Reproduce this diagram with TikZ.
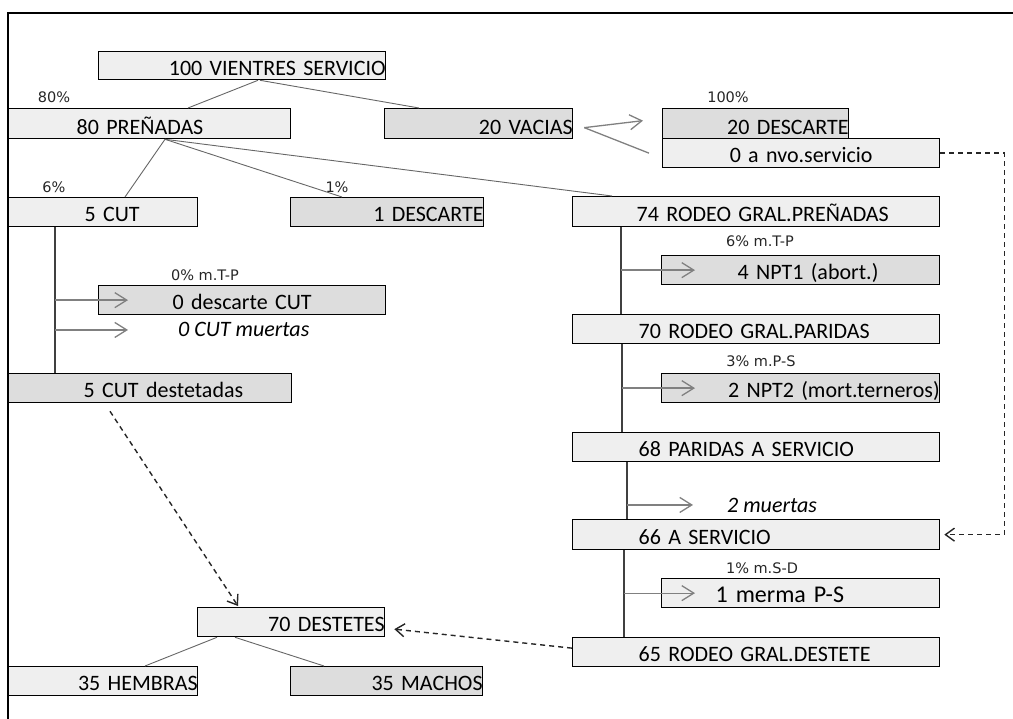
\documentclass[tikz,border=0pt]{standalone}
\usepackage{fontspec}
\setmainfont{Carlito}
\newfontfamily\etiq{DejaVu Sans}
\usetikzlibrary{arrows.meta}
\definecolor{claro}{HTML}{EFEFEF}
\definecolor{oscuro}{HTML}{DDDDDD}

\begin{document}
\begin{tikzpicture}[x=1pt, y=-1pt,
    caja/.style={draw, line width=1.3pt, fill=claro, minimum height=29pt, inner sep=0pt, anchor=north west,
                 font=\fontsize{22}{24}\selectfont, text height=19pt, text depth=0pt},
    gris/.style={caja, fill=oscuro},
    porc/.style={font=\etiq\fontsize{14.5}{16}\selectfont, text=black!85, inner sep=0pt, anchor=base},
    texto/.style={font=\fontsize{22}{24}\selectfont\itshape, inner sep=0pt, anchor=base west},
    rama/.style={draw=black!60, line width=0.9pt},
    tronco/.style={draw=black!75, line width=1.1pt},
    flecha/.style={draw=black!50, line width=1.3pt, -{Straight Barb[length=12pt,width=15pt]}},
    punteada/.style={draw=black!85, line width=1.4pt, dash pattern=on 5pt off 4pt, -{Straight Barb[length=9pt,width=13pt]}}]
  \useasboundingbox (0,0) rectangle (1013,719);
  % marco
  \draw[line width=1.5pt] (1013,13) -- (8,13) -- (8,719);

  % servicio
  \node[caja, text width=287pt, align=right, minimum height=28pt, text height=20pt] (vientres) at (98,51) {100 VIENTRES SERVICIO\hspace*{12pt}};
  \node[caja, text width=282pt, align=left, minimum height=30pt, text height=21pt] (prenadas) at (8,108) {\hspace*{68pt}80 PREÑADAS};
  \node[gris, text width=188pt, align=right, minimum height=30pt, text height=21pt] (vacias) at (384,108) {20 VACIAS\hspace*{19pt}};
  \node[gris, text width=186pt, align=right, minimum height=30pt, text height=21pt] (descarte) at (662,108) {20 DESCARTE\hspace*{12pt}};
  \node[caja, text width=277pt, align=center] (nvo) at (662,138) {0 a nvo.servicio};
  \node[porc] (p80) at (54,103) {80\%};
  \node[porc] (p100) at (728,103) {100\%};

  % preñadas
  \node[caja, text width=189pt, align=left] (cut) at (8,197) {\hspace*{76pt}5 CUT};
  \node[gris, text width=193pt, align=right] (descarte1) at (290,197) {1 DESCARTE\hspace*{6pt}};
  \node[caja, text width=367pt, align=left, minimum height=30pt] (rodeo) at (572,196) {\hspace*{64pt}74 RODEO GRAL.PREÑADAS};
  \node[porc] (p6) at (54,193) {6\%};
  \node[porc] (p1) at (337,193) {1\%};

  % vaquillonas CUT
  \node[gris, text width=287pt, align=center] (descCUT) at (98,285) {0 descarte CUT};
  \node[texto] (muertasCUT) at (178,337) {0 CUT muertas};
  \node[gris, text width=283pt, align=left] (cutdest) at (8,373) {\hspace*{75pt}5 CUT destetadas};
  \node[porc] (pTP) at (205,281) {0\% m.T-P};

  % rodeo general
  \node[gris, text width=278pt, align=left] (npt1) at (661,255) {\hspace*{76pt}4 NPT1 (abort.)};
  \node[caja, text width=367pt, align=left] (paridas) at (572,314) {\hspace*{66pt}70 RODEO GRAL.PARIDAS};
  \node[gris, text width=278pt, align=right] (npt2) at (661,373) {2 NPT2 (mort.terneros)};
  \node[caja, text width=367pt, align=left] (aservicio68) at (572,432) {\hspace*{66pt}68 PARIDAS A SERVICIO};
  \node[texto] (muertas) at (727,512) {2 muertas};
  \node[caja, text width=367pt, align=left, minimum height=30pt] (aservicio) at (572,519) {\hspace*{66pt}66 A SERVICIO};
  \node[caja, text width=278pt, align=left, font=\fontsize{24}{26}\selectfont] (merma) at (661,578) {\hspace*{54pt}1 merma P-S};
  \node[caja, text width=367pt, align=left] (destete) at (572,637) {\hspace*{66pt}65 RODEO GRAL.DESTETE};
  \node[porc] (pTP2) at (760,247) {6\% m.T-P};
  \node[porc] (pPS) at (761,367) {3\% m.P-S};
  \node[porc] (pSD) at (762,573) {1\% m.S-D};

  % destetes
  \node[caja, text width=187pt, align=right] (destetes) at (197,607) {70 DESTETES\hspace*{5pt}};
  \node[caja, text width=189pt, align=right] (hembras) at (8,666) {35 HEMBRAS\hspace*{4pt}};
  \node[gris, text width=192pt, align=right] (machos) at (290,666) {35 MACHOS\hspace*{15pt}};

  % ramas
  \draw[rama] ([xshift=160pt]vientres.south west) -- ([xshift=180pt]prenadas.north west);
  \draw[rama] ([xshift=162pt]vientres.south west) -- ([xshift=35pt]vacias.north west);
  \draw[rama] ([xshift=157pt]prenadas.south west) -- ([xshift=117pt]cut.north west);
  \draw[rama] ([xshift=157pt]prenadas.south west) -- ([xshift=52pt]descarte1.north west);
  \draw[rama] ([xshift=157pt]prenadas.south west) -- ([xshift=40pt]rodeo.north west);
  \draw[rama] ([xshift=20pt]destetes.south west) -- ([xshift=137pt]hembras.north west);
  \draw[rama] ([xshift=38pt]destetes.south west) -- ([xshift=34pt]machos.north west);

  % troncos
  \draw[tronco] ([xshift=47pt]cut.south west) -- ([xshift=47pt]cutdest.north west);
  \draw[tronco] ([xshift=49pt]rodeo.south west) -- ([xshift=49pt]paridas.north west);
  \draw[tronco] ([xshift=50pt]paridas.south west) -- ([xshift=50pt]aservicio68.north west);
  \draw[tronco] ([xshift=55pt]aservicio68.south west) -- ([xshift=55pt]aservicio.north west);
  \draw[tronco] ([xshift=52pt]aservicio.south west) -- ([xshift=52pt]destete.north west);

  % salidas
  \draw[flecha] ([xshift=11pt,yshift=-4pt]vacias.east) -- ([xshift=-19pt,yshift=3pt]descarte.west);
  \draw[draw=black!50, line width=1.3pt] ([xshift=11pt,yshift=-4pt]vacias.east) -- ([xshift=-13pt]nvo.west);
  \draw[flecha] ([xshift=47pt]cut.south west |- descCUT.west) -- ([xshift=30pt]descCUT.west);
  \draw[flecha] ([xshift=47pt]cut.south west |- muertasCUT.west) -- ([xshift=-50pt]muertasCUT.west);
  \draw[flecha] ([xshift=49pt]rodeo.south west |- npt1.west) -- ([xshift=34pt]npt1.west);
  \draw[flecha] ([xshift=50pt]paridas.south west |- npt2.west) -- ([xshift=34pt]npt2.west);
  \draw[flecha] ([xshift=55pt]aservicio68.south west |- muertas.west) -- ([xshift=-34pt]muertas.west);
  \draw[flecha] ([xshift=52pt]aservicio.south west |- merma.west) -- ([xshift=34pt]merma.west);

  % retornos
  \draw[punteada] (nvo.east) -- ++(64,0) |- ([xshift=4pt]aservicio.east);
  \draw[punteada] ([xshift=102pt,yshift=-8pt]cutdest.south west) -- ([xshift=41pt,yshift=1pt]destetes.north west);
  \draw[punteada] ([yshift=4pt]destete.west) -- ([xshift=9pt,yshift=-7pt]destetes.east);
\end{tikzpicture}
\end{document}
